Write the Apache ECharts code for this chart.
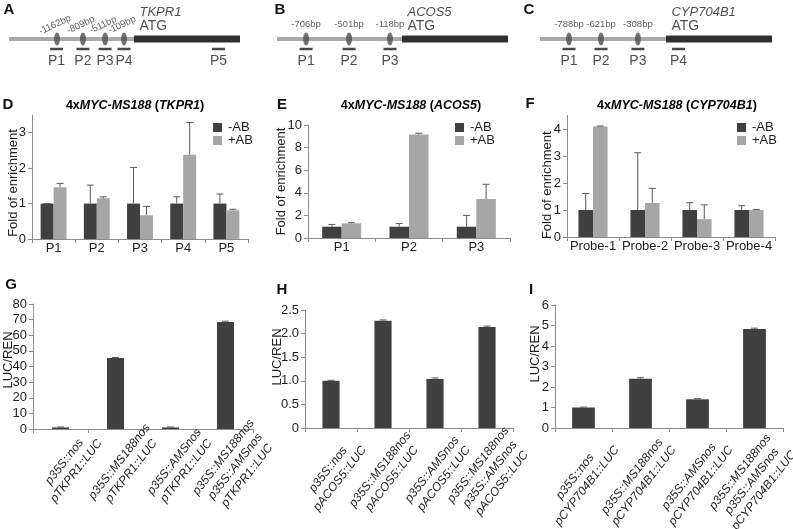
<!DOCTYPE html>
<html><head><meta charset="utf-8">
<script src="https://cdn.jsdelivr.net/npm/echarts@6/dist/echarts.min.js"></script>
<style>html,body{margin:0;padding:0;background:#fff}#c{width:793px;height:529px}</style>
</head><body><div id="c"></div>
<script>
// ---------- Gene diagrams (schematic, not to scale: positions in diagram units 0-100) ----------
const tkpr1Promoter = [0, 54.1];
const tkpr1Body = [54.1, 100];
const tkpr1SitePos = [20.8, 32.0, 41.6, 49.8];
const tkpr1SiteLabels = ['-1162bp', '-809bp', '-511bp', '-109bp'];
const tkpr1ProbePos = [20.6, 32.0, 41.6, 49.8, 90.7];
const tkpr1ProbeNames = ['P1', 'P2', 'P3', 'P4', 'P5'];

const acos5Promoter = [0, 54.1];
const acos5Body = [54.1, 100];
const acos5SitePos = [12.6, 31.2, 48.9];
const acos5SiteLabels = ['-706bp', '-501bp', '-118bp'];
const acos5ProbePos = [12.6, 31.2, 48.9];
const acos5ProbeNames = ['P1', 'P2', 'P3'];

const cypPromoter = [0, 54.3];
const cypBody = [54.3, 100];
const cypSitePos = [12.5, 26.3, 42.2];
const cypSiteLabels = ['-788bp', '-621bp', '-308bp'];
const cypProbePos = [12.5, 26.3, 42.2, 59.7];
const cypProbeNames = ['P1', 'P2', 'P3', 'P4'];

// ---------- ChIP-qPCR (fold of enrichment) ----------
const chipTkpr1Cats = ['P1', 'P2', 'P3', 'P4', 'P5'];
const chipTkpr1Minus = [1, 1, 1, 1, 1];
const chipTkpr1MinusUpper = [1.0, 1.52, 2.02, 1.19, 1.27];
const chipTkpr1Plus = [1.46, 1.15, 0.67, 2.38, 0.81];
const chipTkpr1PlusUpper = [1.57, 1.19, 0.92, 3.29, 0.84];

const chipAcos5Cats = ['P1', 'P2', 'P3'];
const chipAcos5Minus = [1, 1, 1];
const chipAcos5MinusUpper = [1.2, 1.28, 2.0];
const chipAcos5Plus = [1.3, 9.15, 3.45];
const chipAcos5PlusUpper = [1.36, 9.27, 4.75];

const chipCypCats = ['Probe-1', 'Probe-2', 'Probe-3', 'Probe-4'];
const chipCypMinus = [1, 1, 1, 1];
const chipCypMinusUpper = [1.61, 3.12, 1.27, 1.16];
const chipCypPlus = [4.09, 1.26, 0.66, 1.0];
const chipCypPlusUpper = [4.11, 1.8, 1.19, 1.02];

// ---------- LUC/REN transient assays ----------
const lucTkpr1Cats = ['p35S::nos\npTKPR1::LUC', 'p35S::MS188nos\npTKPR1::LUC', 'p35S::AMSnos\npTKPR1::LUC', 'p35S::MS188nos\np35S::AMSnos\npTKPR1::LUC'];
const lucTkpr1Vals = [1.0, 45.4, 1.0, 68.5];
const lucTkpr1Upper = [1.3, 45.8, 1.3, 69.0];

const lucAcos5Cats = ['p35S::nos\npACOS5::LUC', 'p35S::MS188nos\npACOS5::LUC', 'p35S::AMSnos\npACOS5::LUC', 'p35S::MS188nos\np35S::AMSnos\npACOS5::LUC'];
const lucAcos5Vals = [1.0, 2.27, 1.04, 2.14];
const lucAcos5Upper = [1.01, 2.29, 1.06, 2.16];

const lucCypCats = ['p35S::nos\npCYP704B1::LUC', 'p35S::MS188nos\npCYP704B1::LUC', 'p35S::AMSnos\npCYP704B1::LUC', 'p35S::MS188nos\np35S::AMSnos\npCYP704B1::LUC'];
const lucCypVals = [1.0, 2.4, 1.4, 4.83];
const lucCypUpper = [1.02, 2.45, 1.43, 4.87];

// ---------- styling ----------
const FONT = '"Liberation Sans", Arial, sans-serif';
const DARK = '#404040', LIGHT = '#a6a6a6', AXIS = '#8c8c8c', TXT = '#1e1e1e', ERR = '#5a5a5a';
const ELLIPSE = 'path://M5,0 A5,5 0 1,1 5,10 A5,5 0 1,1 5,0 Z';
const LINE_Y = 39, PROBE_Y = 49, ATG_Y = 26, GENE_Y = 12;

const chart = echarts.init(document.getElementById('c'), null, {renderer: 'canvas'});

const grids = [
  {left: 9, top: 0, width: 231, height: 70},
  {left: 277, top: 0, width: 231, height: 70},
  {left: 540, top: 0, width: 232, height: 70},
  {left: 32, top: 115, width: 216, height: 124},
  {left: 308, top: 125, width: 202, height: 113},
  {left: 567, top: 115.5, width: 208, height: 121.5},
  {left: 33, top: 304, width: 220, height: 125},
  {left: 305, top: 310, width: 208, height: 118},
  {left: 555, top: 305, width: 228, height: 123}
].map(g => Object.assign({containLabel: false, outerBoundsMode: 'none'}, g));

const xAxes = [], yAxes = [], series = [];

// diagrams
function addDiagram(idx, promoter, body, sites, siteLabels, probes, probeNames, gene, rot) {
  xAxes.push({type: 'value', gridIndex: idx, min: 0, max: 100, show: false});
  yAxes.push({type: 'value', gridIndex: idx, min: 0, max: 70, inverse: true, show: false});
  const ax = {xAxisIndex: idx, yAxisIndex: idx, silent: true, animation: false};
  series.push(Object.assign({type: 'line', data: promoter.map(x => [x, LINE_Y]), symbol: 'none',
    lineStyle: {color: '#a9a9a9', width: 4, cap: 'butt'}, z: 1}, ax));
  series.push(Object.assign({type: 'line', data: body.map(x => [x, LINE_Y]), symbol: 'none',
    lineStyle: {color: '#303030', width: 7, cap: 'butt'}, z: 2}, ax));
  series.push(Object.assign({type: 'scatter', data: sites.map(s => [s, LINE_Y]), symbol: ELLIPSE,
    symbolSize: [6, 13], itemStyle: {color: '#4f4f4f'}, z: 3,
    label: {show: true, position: 'top', distance: 3, rotate: rot, fontSize: 9.5, color: '#333', fontFamily: FONT,
      formatter: p => siteLabels[p.dataIndex]}}, ax));
  series.push(Object.assign({type: 'scatter', data: probes.map(s => [s, PROBE_Y]), symbol: 'rect',
    symbolSize: [13, 2.5], itemStyle: {color: '#1a1a1a'}, z: 3,
    label: {show: true, position: 'bottom', distance: 4, fontSize: 14, color: '#222', fontFamily: FONT,
      formatter: p => probeNames[p.dataIndex]}}, ax));
  series.push(Object.assign({type: 'scatter', data: [[promoter[1], ATG_Y]], symbolSize: 1,
    itemStyle: {color: 'rgba(0,0,0,0)'}, z: 3,
    label: {show: true, position: 'right', distance: 5, fontSize: 14, color: '#222', fontFamily: FONT, formatter: 'ATG'}}, ax));
  series.push(Object.assign({type: 'scatter', data: [[promoter[1], GENE_Y]], symbolSize: 1,
    itemStyle: {color: 'rgba(0,0,0,0)'}, z: 3,
    label: {show: true, position: 'right', distance: 5, fontSize: 13, fontStyle: 'italic', color: '#222', fontFamily: FONT, formatter: gene}}, ax));
}
addDiagram(0, tkpr1Promoter, tkpr1Body, tkpr1SitePos, tkpr1SiteLabels, tkpr1ProbePos, tkpr1ProbeNames, 'TKPR1', 25);
addDiagram(1, acos5Promoter, acos5Body, acos5SitePos, acos5SiteLabels, acos5ProbePos, acos5ProbeNames, 'ACOS5', 0);
addDiagram(2, cypPromoter, cypBody, cypSitePos, cypSiteLabels, cypProbePos, cypProbeNames, 'CYP704B1', 0);

function errRender(offsetFrac, capW) {
  return function (params, api) {
    const cat = api.value(0), v = api.value(1), hi = api.value(2);
    const bw = api.size([1, 0])[0];
    const p0 = api.coord([cat, v]), p1 = api.coord([cat, hi]);
    const x = p0[0] + offsetFrac * bw;
    const st = {stroke: ERR, lineWidth: 1};
    return {type: 'group', children: [
      {type: 'line', shape: {x1: x, y1: p0[1], x2: x, y2: p1[1]}, style: st},
      {type: 'line', shape: {x1: x - capW / 2, y1: p1[1], x2: x + capW / 2, y2: p1[1]}, style: st}
    ]};
  };
}

function catAxis(idx, data, labelExtra) {
  return {type: 'category', gridIndex: idx, data: data,
    axisLine: {show: true, onZero: false, lineStyle: {color: AXIS, width: 1}},
    axisTick: {show: true, length: 4, inside: false, alignWithLabel: false, interval: 0, lineStyle: {color: AXIS}},
    axisLabel: Object.assign({interval: 0, color: TXT, fontSize: 13, margin: 3, fontFamily: FONT}, labelExtra),
    splitLine: {show: false}};
}
function valAxis(idx, max, interval, ticks, name, gap, namePad, fmt) {
  return {type: 'value', gridIndex: idx, min: 0, max: max, interval: interval,
    name: name, nameLocation: 'middle', nameGap: gap, nameRotate: 90, nameMoveOverlap: false,
    nameTextStyle: {fontSize: 13, color: TXT, fontFamily: FONT, padding: namePad},
    axisLine: {show: true, lineStyle: {color: AXIS, width: 1}},
    axisTick: {show: true, length: 4, inside: false, lineStyle: {color: AXIS}, customValues: ticks},
    axisLabel: {color: TXT, fontSize: 13, margin: 6, fontFamily: FONT, customValues: ticks, formatter: fmt || (v => String(v))},
    splitLine: {show: false}};
}

// ChIP panels
function addChip(idx, cats, minus, minusUp, plus, plusUp, max, interval, ticks, gap, namePad, gapPct) {
  xAxes.push(catAxis(idx, cats));
  yAxes.push(valAxis(idx, max, interval, ticks, 'Fold of enrichment', gap, namePad));
  const ax = {xAxisIndex: idx, yAxisIndex: idx, animation: false};
  const half = (1 - gapPct / 100) / 4;
  series.push(Object.assign({type: 'bar', name: '-AB', data: minus, itemStyle: {color: DARK},
    barGap: '0%', barCategoryGap: gapPct + '%'}, ax));
  series.push(Object.assign({type: 'bar', name: '+AB', data: plus, itemStyle: {color: LIGHT},
    barGap: '0%', barCategoryGap: gapPct + '%'}, ax));
  series.push(Object.assign({type: 'custom', renderItem: errRender(-half, 7), z: 5,
    data: minus.map((v, i) => [i, v, minusUp[i]]), encode: {x: 0, y: [1, 2]}}, ax));
  series.push(Object.assign({type: 'custom', renderItem: errRender(half, 7), z: 5,
    data: plus.map((v, i) => [i, v, plusUp[i]]), encode: {x: 0, y: [1, 2]}}, ax));
}
addChip(3, chipTkpr1Cats, chipTkpr1Minus, chipTkpr1MinusUpper, chipTkpr1Plus, chipTkpr1PlusUpper, 3.5, 1, [0, 1, 2, 3], 12.5, [0, 12, 0, 0], 40);
addChip(4, chipAcos5Cats, chipAcos5Minus, chipAcos5MinusUpper, chipAcos5Plus, chipAcos5PlusUpper, 10, 2, [0, 2, 4, 6, 8, 10], 20, [0, 0, 0, 0], 42);
addChip(5, chipCypCats, chipCypMinus, chipCypMinusUpper, chipCypPlus, chipCypPlusUpper, 4.5, 1, [0, 1, 2, 3, 4], 13, [0, 18, 0, 0], 44);

// LUC panels
function rotLabel(pad) {
  return {rotate: 52, align: 'center', verticalAlign: 'middle', padding: pad,
    fontStyle: 'italic', fontSize: 12, lineHeight: 15, margin: 50};
}
function addLuc(idx, cats, vals, upper, max, interval, ticks, gap, namePad, gapPct, labelPad, fmt) {
  xAxes.push(catAxis(idx, cats, rotLabel(labelPad)));
  yAxes.push(valAxis(idx, max, interval, ticks, 'LUC/REN', gap, namePad, fmt));
  const ax = {xAxisIndex: idx, yAxisIndex: idx, animation: false};
  series.push(Object.assign({type: 'bar', name: 'LUC/REN', data: vals, itemStyle: {color: DARK},
    barCategoryGap: gapPct + '%'}, ax));
  series.push(Object.assign({type: 'custom', renderItem: errRender(0, 7), z: 5,
    data: vals.map((v, i) => [i, v, upper[i]]), encode: {x: 0, y: [1, 2]}}, ax));
}
addLuc(6, lucTkpr1Cats, lucTkpr1Vals, lucTkpr1Upper, 80, 10, [0, 10, 20, 30, 40, 50, 60, 70, 80], 18, [0, 0, 0, 13], 69, [0, 0, 0, 32]);
addLuc(7, lucAcos5Cats, lucAcos5Vals, lucAcos5Upper, 2.5, 0.5, [0, 0.5, 1, 1.5, 2, 2.5], 21, [0, 0, 0, 24], 67, [0, 0, 0, 10],
  v => v === 0 ? '0' : v.toFixed(1));
addLuc(8, lucCypCats, lucCypVals, lucCypUpper, 6, 1, [0, 1, 2, 3, 4, 5, 6], 13, [0, 0, 0, 25], 60, [0, 8, 0, 0]);

function legendAt(left, top) {
  return {data: ['-AB', '+AB'], orient: 'vertical', left: left, top: top, padding: 0, itemGap: 0,
    itemWidth: 9, itemHeight: 9, icon: 'rect', selectedMode: false,
    textStyle: {fontSize: 13, color: TXT, fontFamily: FONT, padding: [0, 0, 0, 1]}};
}

function panelLetter(t, x, y) {
  return {type: 'text', x: x, y: y, silent: true,
    style: {text: t, font: 'bold 15px ' + FONT, fill: '#111', align: 'center', verticalAlign: 'middle'}};
}
const richTitle = {
  n: {fontWeight: 'bold', fontSize: 12.5, fontFamily: FONT, color: '#111'},
  i: {fontWeight: 'bold', fontStyle: 'italic', fontSize: 12.5, fontFamily: FONT, color: '#111'}
};
function chartTitle(gene, x, y) {
  return {type: 'text', x: x, y: y, silent: true,
    style: {text: '{n|4x}{i|MYC-MS188}{n| (}{i|' + gene + '}{n|)}', rich: richTitle, align: 'center', verticalAlign: 'middle'}};
}

chart.setOption({
  animation: false,
  backgroundColor: '#fff',
  textStyle: {fontFamily: FONT},
  grid: grids,
  xAxis: xAxes,
  yAxis: yAxes,
  legend: [legendAt(213, 121), legendAt(455, 121), legendAt(737, 121)],
  series: series,
  graphic: [
    panelLetter('A', 9, 10), panelLetter('B', 280, 10), panelLetter('C', 529, 10),
    panelLetter('D', 8, 105), panelLetter('E', 282, 105), panelLetter('F', 530, 104),
    panelLetter('G', 11, 285), panelLetter('H', 282, 290), panelLetter('I', 531, 290),
    chartTitle('TKPR1', 135, 106), chartTitle('ACOS5', 411, 106), chartTitle('CYP704B1', 677, 106)
  ]
});
</script></body></html>
